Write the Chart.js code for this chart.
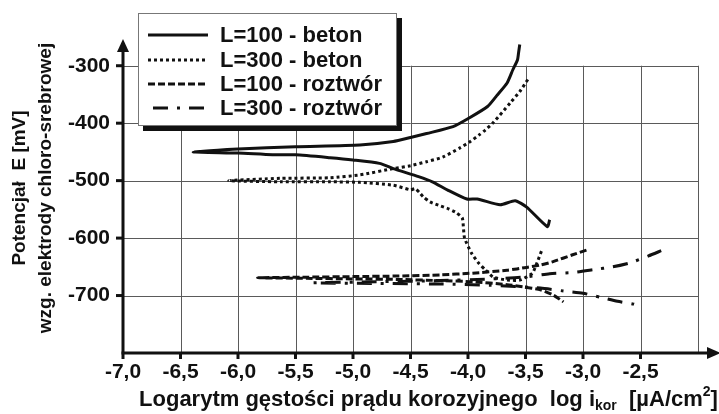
<!DOCTYPE html>
<html><head><meta charset="utf-8">
<script src="https://cdn.jsdelivr.net/npm/chart.js@4.4.1/dist/chart.umd.min.js"></script>
<style>html,body{margin:0;padding:0;background:#fff;}#wrap{width:719px;height:414px;}</style>
</head><body><div id="wrap"><canvas id="c" width="719" height="414"></canvas></div>
<script>
// ---- data ----
const xTicks = [-7.0, -6.5, -6.0, -5.5, -5.0, -4.5, -4.0, -3.5, -3.0, -2.5];
const xGrid = [-6.5, -6.0, -5.5, -5.0, -4.5, -4.0, -3.5, -3.0, -2.5, -2.0];
const yTicks = [-700, -600, -500, -400, -300];
const seriesNames = ['L=100 - beton', 'L=300 - beton', 'L=100 - roztwór', 'L=300 - roztwór'];

const beton100X = [-3.55,-3.56,-3.57,-3.61,-3.66,-3.75,-3.83,-3.99,-4.13,-4.36,-4.5,-4.65,-4.94,-5.5,-6.0,-6.39,-6.0,-5.7,-5.5,-5.2,-5.0,-4.77,-4.65,-4.43,-4.31,-4.18,-4.01,-3.92,-3.72,-3.59,-3.49,-3.31,-3.29];
const beton100Y = [-263,-277,-290,-307,-330,-352,-371,-391,-406,-418,-425,-432,-438,-441,-445,-450,-452,-455,-455,-460,-464,-470,-479,-493,-502,-516,-532,-532,-542,-535,-546,-580,-568];

const beton300X = [-3.48,-3.55,-3.63,-3.78,-3.85,-3.9,-3.98,-4.07,-4.22,-4.36,-4.5,-4.65,-4.94,-5.2,-5.63,-6.08,-5.63,-5.2,-4.94,-4.65,-4.5,-4.46,-4.42,-4.39,-4.33,-4.24,-4.17,-4.10,-4.05,-4.04,-4.03,-3.97,-3.91,-3.85,-3.78,-3.66,-3.55,-3.44,-3.40,-3.36];
const beton300Y = [-324,-345,-364,-399,-412,-420,-432,-443,-459,-467,-474,-479,-490,-495,-496,-500,-502,-502,-503,-508,-516,-514,-521,-528,-537,-544,-549,-556,-565,-581,-600,-626,-643,-655,-668,-673,-673,-661,-643,-622];

const roz100X = [-2.97,-3.09,-3.26,-3.37,-3.49,-3.66,-3.96,-4.24,-4.6,-5.0,-5.4,-5.83,-5.4,-5.0,-4.6,-4.24,-3.96,-3.66,-3.52,-3.37,-3.26,-3.17];
const roz100Y = [-621,-629,-641,-647,-651,-656,-661,-664,-666,-667,-668,-669,-670,-671,-672,-674,-676,-681,-685,-690,-699,-711];

const roz300X = [-2.32,-2.43,-2.59,-2.74,-2.91,-3.09,-3.29,-3.52,-3.8,-4.24,-4.8,-5.35,-4.8,-4.24,-3.81,-3.37,-3.17,-3.0,-2.85,-2.70,-2.56,-2.49];
const roz300Y = [-622,-631,-643,-650,-655,-660,-662,-668,-671,-674,-676,-678,-679,-680,-682,-687,-692,-696,-703,-710,-715,-720];

// ---- styles ----
const INK = '#111';
const FONT = "'Liberation Sans', Arial, Helvetica, sans-serif";
const dashes = [[], [3, 3], [7, 3], [15, 9, 3, 9]];

function zip(xs, ys) { return xs.map((x, i) => ({ x: x, y: ys[i] })); }
const allX = [beton100X, beton300X, roz100X, roz300X];
const allY = [beton100Y, beton300Y, roz100Y, roz300Y];

const datasets = seriesNames.map((name, i) => ({
  label: name,
  data: zip(allX[i], allY[i]),
  showLine: true,
  borderColor: INK,
  backgroundColor: INK,
  borderWidth: 3,
  borderDash: dashes[i],
  borderCapStyle: 'butt',
  borderJoinStyle: 'round',
  pointRadius: 0,
  tension: 0.2,
  fill: false
}));

const fmt = v => (Math.round(v * 10) / 10).toFixed(1).replace('.', ',');

const decor = {
  id: 'decor',
  beforeDatasetsDraw(chart) {
    const ctx = chart.ctx, xs = chart.scales.x, ys = chart.scales.y;
    ctx.save();
    ctx.strokeStyle = '#5a5a5a';
    ctx.lineWidth = 1;
    const xl = xs.getPixelForValue(-7), xr = xs.getPixelForValue(-2);
    const yt = ys.getPixelForValue(-300), yb = ys.getPixelForValue(-800);
    yTicks.forEach(v => {
      const y = Math.round(ys.getPixelForValue(v)) + 0.5;
      ctx.beginPath(); ctx.moveTo(xl, y); ctx.lineTo(xr, y); ctx.stroke();
    });
    xGrid.forEach(v => {
      const x = Math.round(xs.getPixelForValue(v)) + 0.5;
      ctx.beginPath(); ctx.moveTo(x, yt); ctx.lineTo(x, yb); ctx.stroke();
    });
    ctx.restore();
  },
  afterDraw(chart) {
    const ctx = chart.ctx, xs = chart.scales.x, ys = chart.scales.y, ca = chart.chartArea;
    ctx.save();
    // axes
    const x0 = xs.getPixelForValue(-7), y0 = ys.getPixelForValue(-800);
    ctx.strokeStyle = INK; ctx.fillStyle = INK; ctx.lineWidth = 3;
    ctx.beginPath(); ctx.moveTo(x0, y0); ctx.lineTo(x0, ca.top + 12); ctx.stroke();
    ctx.beginPath(); ctx.moveTo(x0 - 6, ca.top + 15); ctx.lineTo(x0, ca.top + 2); ctx.lineTo(x0 + 6, ca.top + 15); ctx.closePath(); ctx.fill();
    ctx.beginPath(); ctx.moveTo(x0 - 1.5, y0); ctx.lineTo(712, y0); ctx.stroke();
    ctx.beginPath(); ctx.moveTo(707, y0 - 6); ctx.lineTo(721, y0); ctx.lineTo(707, y0 + 6); ctx.closePath(); ctx.fill();
    // tick marks
    xTicks.forEach(v => {
      const x = xs.getPixelForValue(v);
      ctx.beginPath(); ctx.moveTo(x, y0); ctx.lineTo(x, y0 + 6); ctx.stroke();
    });
    yTicks.forEach(v => {
      const y = ys.getPixelForValue(v);
      ctx.beginPath(); ctx.moveTo(x0 - 7, y); ctx.lineTo(x0, y); ctx.stroke();
    });
    // y title
    ctx.save();
    ctx.translate(0, 188);
    ctx.rotate(-Math.PI / 2);
    ctx.font = 'bold 19px ' + FONT;
    ctx.textAlign = 'center'; ctx.textBaseline = 'middle';
    ctx.fillText('Potencjał  E [mV]', 0, 20);
    ctx.fillText('wzg. elektrody chloro-srebrowej', 0, 46);
    ctx.restore();
    // x title with subscript and superscript
    const big = 'bold 22px ' + FONT, small = 'bold 14px ' + FONT;
    const parts = [
      { t: 'Logarytm gęstości prądu korozyjnego  log i', f: big, dy: 0 },
      { t: 'kor', f: small, dy: 4 },
      { t: '  [µA/cm', f: big, dy: 0 },
      { t: '2', f: small, dy: -10 },
      { t: ']', f: big, dy: 0 }
    ];
    let total = 0;
    parts.forEach(p => { ctx.font = p.f; p.w = ctx.measureText(p.t).width; total += p.w; });
    let cx = 428.5 - total / 2;
    const base = 406;
    ctx.fillStyle = INK;
    ctx.textAlign = 'left'; ctx.textBaseline = 'alphabetic';
    parts.forEach(p => { ctx.font = p.f; ctx.fillText(p.t, cx, base + p.dy); cx += p.w; });
    // legend
    const lx = 138, ly = 13, lw = 259, lh = 113;
    ctx.fillStyle = INK; ctx.fillRect(lx + 5, ly + 5, lw, lh);
    ctx.fillStyle = '#fff'; ctx.fillRect(lx, ly, lw, lh);
    ctx.strokeStyle = '#777'; ctx.lineWidth = 1; ctx.strokeRect(lx + 0.5, ly + 0.5, lw - 1, lh - 1);
    const rows = [35, 60, 84, 108];
    ctx.font = 'bold 22px ' + FONT; ctx.textBaseline = 'middle'; ctx.textAlign = 'left';
    seriesNames.forEach((n, i) => {
      ctx.strokeStyle = INK; ctx.lineWidth = 3; ctx.lineCap = 'butt';
      ctx.setLineDash(dashes[i]);
      ctx.beginPath(); ctx.moveTo(i === 3 ? 153 : 148, rows[i]); ctx.lineTo(208, rows[i]); ctx.stroke();
      ctx.setLineDash([]);
      ctx.fillStyle = INK; ctx.fillText(n, 220, rows[i] + 1);
    });
    ctx.restore();
  }
};

new Chart(document.getElementById('c'), {
  type: 'scatter',
  data: { datasets: datasets },
  options: {
    responsive: false,
    animation: false,
    devicePixelRatio: 1,
    layout: { padding: { left: 0, right: 21, top: 37, bottom: 0 } },
    plugins: { legend: { display: false }, tooltip: { enabled: false } },
    scales: {
      x: {
        type: 'linear', min: -7, max: -2,
        afterBuildTicks: s => { s.ticks = xTicks.map(v => ({ value: v })); },
        afterFit: s => { s.height = 61; },
        grid: { display: false, drawTicks: false },
        border: { display: false },
        ticks: { autoSkip: false, maxRotation: 0, padding: 7, color: INK, font: { family: FONT, size: 21, weight: 'bold' }, callback: v => fmt(v) }
      },
      y: {
        type: 'linear', min: -800, max: -250,
        afterBuildTicks: s => { s.ticks = yTicks.map(v => ({ value: v })); },
        afterFit: s => { s.width = 123; },
        grid: { display: false, drawTicks: false },
        border: { display: false },
        ticks: { padding: 13, color: INK, font: { family: FONT, size: 21, weight: 'bold' }, callback: v => String(v) }
      }
    }
  },
  plugins: [decor]
});
</script></body></html>
